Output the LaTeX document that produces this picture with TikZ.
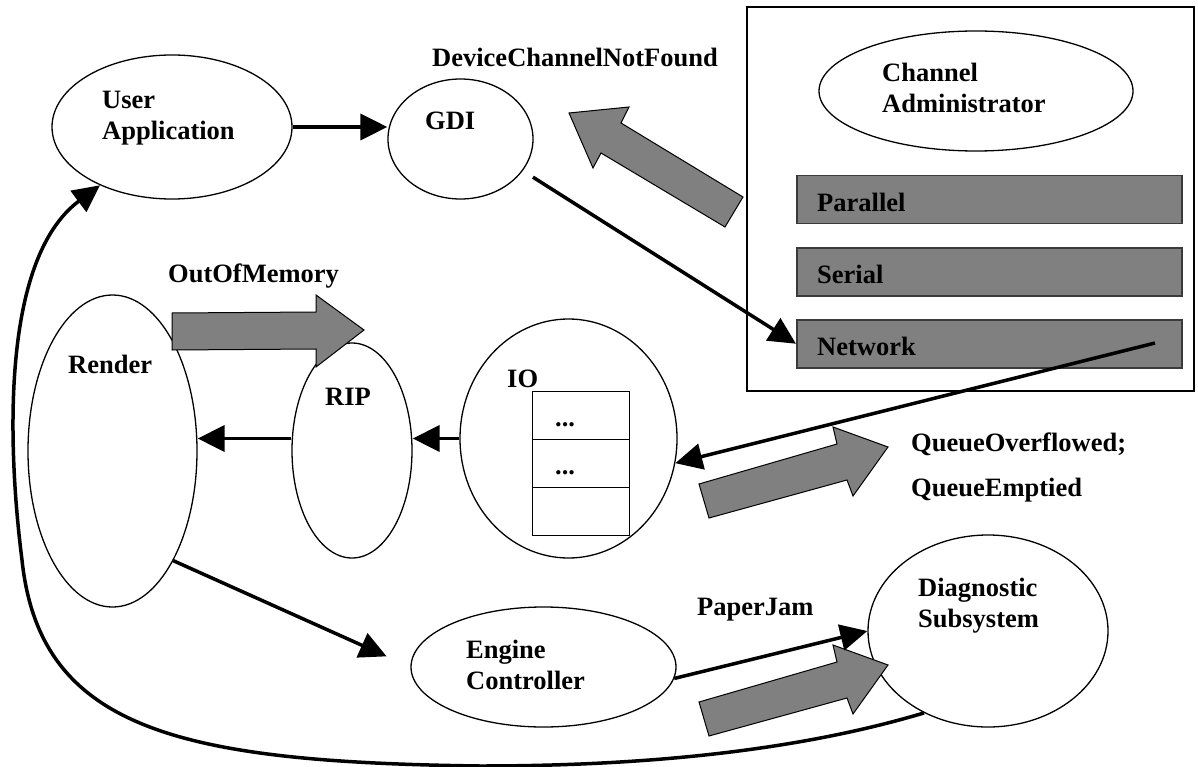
\documentclass[tikz,border=0pt]{standalone}
\usepackage{fontspec}
\setmainfont{Liberation Serif}
\usetikzlibrary{shapes.geometric,arrows.meta}
\definecolor{fatgray}{HTML}{808080}
\definecolor{chanborder}{HTML}{3A3A3A}
\newcommand\lbfont{\fontsize{26.5pt}{31pt}\selectfont\bfseries}
\newcommand\qfont{\fontsize{26.5pt}{45pt}\selectfont\bfseries}
\begin{document}
\begin{tikzpicture}[x=1pt,y=-1pt,
  oval/.style={ellipse, draw, line width=1.3pt, inner sep=0pt},
  lbl/.style={anchor=north west, inner sep=0pt, font=\lbfont, align=left},
  dotlbl/.style={anchor=base west, inner sep=0pt, font=\lbfont},
  conn/.style={line width=3.5pt, -{Triangle[length=27pt,width=26pt]}},
  fat/.style={fill=fatgray, draw=black, line width=1pt, line join=miter},
  chan/.style={draw=chanborder, fill=fatgray, line width=1.5pt, minimum width=385pt, minimum height=48pt, inner sep=0pt, anchor=north west},
  cell/.style={draw, line width=1.3pt, minimum width=97pt, minimum height=48pt, inner sep=0pt, anchor=north west}
]
\useasboundingbox (0,0) rectangle (1198,767);

% channel frame
\node[draw, line width=1.4pt, minimum width=447pt, minimum height=384pt, anchor=north west, inner sep=0pt, outer sep=0pt] (chbox) at (747,7) {};

% ellipses
\node[oval, minimum width=240pt, minimum height=144pt] (ua) at (172,127) {};
\node[oval, minimum width=145pt, minimum height=120pt] (gdi) at (460.5,139) {};
\node[oval, minimum width=314pt, minimum height=120pt] (chadm) at (976,91) {};
\node[oval, minimum width=169pt, minimum height=312pt] (render) at (112.5,451) {};
\node[oval, minimum width=120pt, minimum height=215pt] (rip) at (352,450.5) {};
\node[oval, minimum width=217pt, minimum height=239pt] (io) at (568.5,438.5) {};
\node[oval, minimum width=265pt, minimum height=120pt] (ec) at (543.5,667) {};
\node[oval, minimum width=240pt, minimum height=192pt] (diag) at (988,631) {};

% channel boxes
\node[chan] (par) at (796,175) {};
\node[chan] (ser) at (796,247) {};
\node[chan] (net) at (796,319) {};

% IO queue
\node[cell] (q1) at (532,391) {};
\node[cell] (q2) at (532,439) {};
\node[cell] (q3) at (532,487) {};

% labels
\node[lbl] (uatext) at (102,91) {User\\Application};
\node[lbl] (gditext) at (425,112) {GDI};
\node[lbl] (dcnf) at (432,48) {DeviceChannelNotFound};
\node[lbl] (chadmtext) at (882,63) {Channel\\Administrator};
\node[lbl] (partext) at (817,193) {Parallel};
\node[lbl] (sertext) at (817,265) {Serial};
\node[lbl] (nettext) at (817,337) {Network};
\node[lbl] (oomtext) at (168,264) {OutOfMemory};
\node[lbl] (rendertext) at (68,355) {Render};
\node[lbl] (riptext) at (325,388) {RIP};
\node[lbl] (iotext) at (507,370) {IO};
\node[dotlbl] (q1dots) at (555,426) {...};
\node[dotlbl] (q2dots) at (555,474) {...};
\node[lbl, font=\qfont] (queuetext) at (911,433) {QueueOverflowed;\\QueueEmptied};
\node[lbl] (ectext) at (466,640) {Engine\\Controller};
\node[lbl] (pjtext) at (697,598) {PaperJam};
\node[lbl] (diagtext) at (918,578) {Diagnostic\\Subsystem};

% fat gray event arrows
\filldraw[fat] (172,313) -- (316,312) -- (316,295) -- (364,330) -- (316,367) -- (316,349) -- (172,350) -- cycle;
\filldraw[fat] (743,197) -- (621,123) -- (629,107) -- (569,113) -- (593,168) -- (601,153) -- (725,227) -- cycle;
\filldraw[fat] (699,484) -- (837,444) -- (833,427) -- (888,447) -- (853,496) -- (847,480) -- (709,518) -- cycle;
\filldraw[fat] (699,702) -- (837,662) -- (833,645) -- (888,665) -- (853,714) -- (847,698) -- (709,736) -- cycle;

% connectors
\coordinate (netend) at (1155,343);
\draw[conn] (ua.east) -- (ua.east -| gdi.west);
\draw[conn, shorten <=12pt] (gdi.-27) -- (net.west);
\draw[conn] (netend) -- (io.-13);
\draw[conn] (io.west) -- (io.west -| rip.east);
\draw[conn] (rip.west |- io.west) -- (render.east |- io.west);
\draw[conn, shorten >=26pt] (render.-61) -- (ec.west);
\draw[conn] (ec.-5) -- (diag.west);
\draw[conn] (diag.232) .. controls (800,750) and (650,766) .. (480,766)
  .. controls (180,762) and (40,730) .. (22,560)
  .. controls (8,450) and (0,260) .. (ua.219);
\end{tikzpicture}
\end{document}
